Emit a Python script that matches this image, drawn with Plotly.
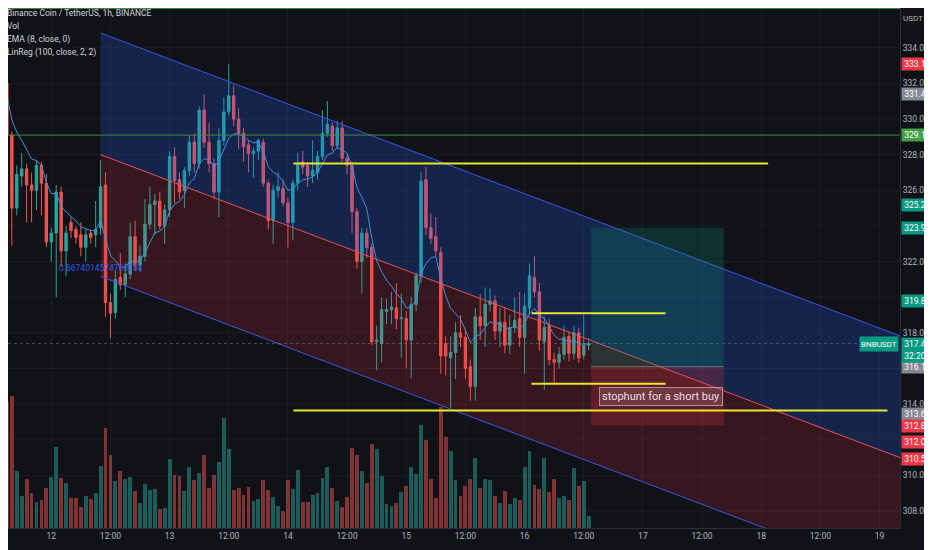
import pandas as pd
import plotly.graph_objects as go

# ---------------------------------------------------------------------------
# BNB/USDT 1h candles, first candle = 11th 14:00
# ---------------------------------------------------------------------------
t0 = pd.Timestamp("2023-04-11 14:00")

opens = [333.3, 332.0, 329.1, 325.0, 326.8, 327.2, 326.3, 326.0, 327.4, 326.4,
         323.1, 323.6, 325.9, 322.6, 324.2, 323.8, 323.5, 322.8, 323.6, 323.5,
         323.9, 326.3, 319.7, 319.15, 321.1, 320.7, 321.3, 323.4, 321.8, 322.3,
         324.1, 325.2, 325.4, 324.0, 324.9, 327.9, 326.6, 326.0, 327.1, 328.7,
         327.5, 330.5, 328.7, 327.5, 325.9, 328.8, 330.4, 331.3, 330.0, 329.2,
         328.55, 328.05, 328.2, 328.7, 326.4, 324.3, 326.0, 326.1, 325.3, 324.2,
         326.4, 327.6, 327.4, 326.8, 327.0, 327.9, 329.2, 329.6, 328.5, 329.5,
         327.8, 327.4, 324.8, 322.0, 323.6, 322.8, 317.5, 317.4, 319.2, 319.3,
         319.4, 318.8, 318.8, 317.6, 319.6, 321.2, 326.6, 323.9, 323.4, 322.5,
         317.4, 316.6, 316.9, 318.0, 317.75, 316.1, 315.0, 318.9, 318.4, 319.6,
         319.8, 318.1, 318.6, 317.3, 318.3, 318.8, 317.75, 319.4, 321.1, 320.3,
         317.5, 318.4, 316.5, 316.35, 316.8, 317.8, 316.85, 318.0, 316.75, 317.3]
highs = [333.6, 332.2, 329.3, 327.4, 328.1, 327.5, 327.0, 327.7, 327.6, 326.9,
         323.9, 326.3, 326.2, 324.0, 324.5, 324.0, 324.2, 323.8, 323.8, 325.4,
         327.7, 327.0, 320.2, 321.5, 322.5, 321.9, 324.2, 324.3, 322.9, 325.5,
         326.2, 325.8, 325.9, 325.2, 328.2, 328.4, 327.0, 327.3, 329.1, 329.2,
         330.7, 331.4, 329.8, 327.8, 329.5, 331.2, 333.1, 331.9, 330.6, 329.5,
         328.8, 328.4, 328.9, 328.9, 326.6, 326.3, 327.0, 326.6, 325.6, 326.6,
         328.1, 328.2, 327.6, 328.8, 328.2, 330.5, 331.0, 329.8, 329.9, 329.9,
         328.0, 327.6, 325.0, 323.9, 323.9, 323.0, 318.4, 320.0, 319.9, 320.3,
         320.8, 320.2, 319.2, 320.0, 321.4, 327.0, 327.3, 324.7, 324.5, 322.8,
         317.8, 317.8, 318.6, 319.0, 318.2, 316.5, 319.4, 320.2, 320.55, 320.5,
         320.1, 319.4, 319.4, 319.0, 320.0, 320.3, 320.2, 321.9, 322.3, 320.8,
         318.9, 318.8, 316.9, 317.2, 318.4, 318.1, 318.4, 318.3, 319.0, 317.7]
lows = [330.0, 326.4, 322.9, 324.6, 326.2, 324.2, 324.2, 324.9, 324.6, 322.8,
        322.0, 320.0, 321.7, 321.2, 323.3, 323.0, 322.3, 322.0, 323.0, 322.8,
        323.5, 318.9, 317.7, 318.8, 320.4, 320.0, 321.0, 321.5, 321.4, 322.0,
        323.8, 323.5, 323.8, 323.0, 324.5, 325.3, 325.5, 325.0, 326.8, 327.0,
        327.2, 328.4, 327.0, 325.5, 324.5, 328.5, 330.2, 329.6, 328.3, 327.6,
        327.0, 326.7, 327.7, 326.2, 323.8, 323.0, 325.6, 325.1, 322.8, 323.2,
        326.0, 326.9, 326.2, 326.4, 326.6, 327.7, 329.0, 328.2, 328.3, 327.6,
        326.9, 323.6, 321.6, 320.2, 322.2, 317.3, 315.9, 316.35, 318.5, 318.5,
        318.2, 316.6, 316.0, 315.45, 319.2, 320.8, 323.5, 323.0, 322.3, 315.7,
        315.6, 313.8, 315.4, 317.2, 315.4, 314.2, 314.2, 317.6, 317.2, 319.2,
        317.6, 317.2, 316.85, 316.8, 318.0, 317.2, 315.7, 319.0, 320.0, 317.0,
        314.8, 316.2, 315.2, 316.0, 316.5, 316.4, 316.5, 316.3, 316.5, 317.0]
closes = [332.0, 329.1, 325.0, 326.9, 327.2, 326.3, 326.0, 327.4, 326.4, 323.1,
          323.6, 325.9, 322.6, 323.6, 323.75, 323.35, 322.8, 323.5, 323.35, 323.8,
          326.2, 319.7, 319.1, 321.0, 320.7, 321.3, 323.4, 321.8, 322.3, 324.1,
          325.2, 325.4, 324.0, 324.9, 327.9, 326.55, 325.9, 327.1, 328.7, 327.5,
          330.5, 328.7, 327.5, 325.9, 328.8, 330.4, 331.3, 330.0, 329.2, 328.45,
          328.05, 328.2, 328.8, 326.4, 324.3, 326.0, 326.2, 325.3, 324.2, 326.4,
          327.45, 327.3, 326.8, 327.1, 327.9, 329.2, 329.7, 328.5, 329.5, 327.8,
          327.4, 324.8, 322.0, 323.6, 322.8, 317.5, 317.6, 319.3, 319.3, 319.45,
          318.8, 318.85, 317.6, 319.6, 321.2, 326.5, 323.9, 323.3, 322.6, 316.7,
          316.7, 316.9, 318.0, 317.75, 316.0, 315.0, 318.9, 318.4, 319.6, 319.8,
          318.1, 318.6, 317.3, 318.3, 318.7, 317.75, 319.5, 321.2, 320.3, 317.6,
          318.3, 316.5, 316.35, 316.8, 317.75, 316.85, 318.0, 316.6, 317.3, 317.4]
# volume in K BNB
volumes = [10.6, 12.6, 13.2, 5.7, 3.2, 4.9, 3.5, 2.6, 2.8, 4.0,
           5.1, 8.1, 5.0, 4.5, 3.0, 3.0, 2.1, 3.2, 2.9, 3.5,
           6.2, 10.0, 7.3, 4.7, 5.7, 4.9, 5.1, 3.7, 2.5, 4.4,
           3.8, 3.9, 1.9, 2.0, 6.9, 5.3, 5.2, 3.7, 6.1, 4.8,
           5.5, 7.3, 4.0, 5.3, 6.6, 11.0, 7.9, 3.8, 4.0, 3.3,
           4.1, 2.7, 2.9, 4.8, 3.8, 3.1, 2.2, 1.7, 4.8, 3.9,
           5.8, 2.6, 2.6, 3.3, 3.5, 5.0, 6.1, 4.0, 2.7, 2.1,
           3.1, 8.0, 7.3, 5.7, 4.5, 8.4, 7.9, 5.2, 2.4, 2.2,
           2.5, 3.6, 4.2, 6.1, 5.4, 10.3, 8.8, 4.9, 3.0, 12.1,
           9.1, 7.7, 4.8, 3.2, 4.2, 4.9, 7.0, 4.0, 4.9, 4.8,
           3.2, 2.5, 3.7, 2.4, 3.0, 2.8, 6.1, 7.7, 4.3, 3.9,
           7.0, 3.6, 4.9, 3.0, 3.2, 2.8, 6.0, 4.2, 4.7, 1.2]

# linear regression channel (100 bars)
linreg_bars = [20, 119]
linreg_mid = [328.0, 317.62]
linreg_dev = 6.83
pearson_r = "0.6674014574765254"

# drawings (bar offsets from first candle, prices)
yellow_from = [59.1, 107.4, 107.4, 59.1]
yellow_to = [155.4, 134.6, 134.6, 179.6]
yellow_price = [327.5, 319.1, 315.15, 313.65]
green_levels = [336.2, 329.1]
pos_from, pos_to = 119.5, 146.4
pos_entry, pos_target, pos_stop = 316.1, 323.9, 312.8
note_bar, note_price = 133.6, 314.45
last_price = 317.4

# price-scale labels
label_text = ["333.1", "331.4", "329.1", "325.2", "323.9", "319.8",
              "316.1", "313.6", "312.8", "312.0", "310.5"]
label_y = [333.1, 331.4, 329.1, 325.2, 323.9, 319.8,
           316.1, 313.45, 312.8, 311.9, 310.9]
label_col = ["#f23645", "#868993", "#43a047", "#089981", "#089981", "#089981",
             "#868993", "#868993", "#f23645", "#f23645", "#f23645"]

# price ticks that are not hidden behind a label
price_ticks = [308, 310, 314, 318, 322, 326, 328, 330, 332, 334]
price_grid = [308, 310, 312, 314, 316, 318, 320, 322, 324, 326, 328, 330, 332, 334]

tick_times = pd.date_range("2023-04-12", "2023-04-19", freq="12h")
tick_text = ["12", "12:00", "13", "12:00", "14", "12:00", "15", "12:00",
             "16", "12:00", "17", "12:00", "18", "12:00", "19"]

# ---------------------------------------------------------------------------
times = pd.date_range(t0, periods=len(opens), freq="h")


def at(h):
    return t0 + pd.Timedelta(hours=h)


UP, DOWN = "#26a69a", "#ef5350"
BG = "#101218"
GRID = "rgba(255,255,255,0.045)"
FONT = "Roboto, Liberation Sans, sans-serif"
x_left, x_right = 1.22, 182.15

ema = pd.Series(closes).ewm(span=8, adjust=False).mean()

# extend the channel to the right edge, like the indicator does
slope = (linreg_mid[1] - linreg_mid[0]) / (linreg_bars[1] - linreg_bars[0])
mid_edge = linreg_mid[1] + slope * (x_right - linreg_bars[1])
ch_x = [at(linreg_bars[0]), at(x_right)]
ch_mid = [linreg_mid[0], mid_edge]
ch_up = [v + linreg_dev for v in ch_mid]
ch_lo = [v - linreg_dev for v in ch_mid]

fig = go.Figure()

fig.add_trace(go.Scatter(x=ch_x, y=ch_lo, mode="lines",
                         line=dict(color="#3b55e6", width=1), hoverinfo="skip"))
fig.add_trace(go.Scatter(x=ch_x, y=ch_mid, mode="lines", fill="tonexty",
                         fillcolor="rgba(242,54,69,0.17)",
                         line=dict(color="#e8505b", width=1), hoverinfo="skip"))
fig.add_trace(go.Scatter(x=ch_x, y=ch_up, mode="lines", fill="tonexty",
                         fillcolor="rgba(41,98,255,0.22)",
                         line=dict(color="#3b55e6", width=1), hoverinfo="skip"))

vol_colors = ["rgba(38,166,154,0.5)" if c >= o else "rgba(239,83,80,0.5)"
              for o, c in zip(opens, closes)]
fig.add_trace(go.Bar(x=times, y=volumes, marker_color=vol_colors,
                     marker_line_width=0, width=3600000 * 0.78, yaxis="y2",
                     name="Vol"))

fig.add_trace(go.Candlestick(
    x=times, open=opens, high=highs, low=lows, close=closes,
    increasing=dict(line=dict(color=UP, width=1), fillcolor=UP),
    decreasing=dict(line=dict(color=DOWN, width=1), fillcolor=DOWN),
    whiskerwidth=0, name="BNBUSDT"))

fig.add_trace(go.Scatter(x=times, y=ema, mode="lines",
                         line=dict(color="#3f8fdb", width=1), name="EMA"))

shapes = []
# horizontal grid at every 2.0 (tick labels are only shown where visible)
for g in price_grid:
    shapes.append(dict(type="line", xref="paper", x0=0, x1=1, y0=g, y1=g,
                       line=dict(color=GRID, width=1), layer="below"))
for lvl in green_levels:
    shapes.append(dict(type="line", xref="paper", x0=0, x1=1, y0=lvl, y1=lvl,
                       line=dict(color="#3f8f3f", width=1)))
shapes.append(dict(type="line", xref="paper", x0=0, x1=1, y0=last_price,
                   y1=last_price, line=dict(color="rgba(140,143,153,0.45)",
                                            width=1, dash="dot")))
shapes.append(dict(type="rect", x0=at(pos_from), x1=at(pos_to), y0=pos_entry,
                   y1=pos_target, fillcolor="rgba(8,153,129,0.22)", line_width=0,
                   layer="above"))
shapes.append(dict(type="rect", x0=at(pos_from), x1=at(pos_to), y0=pos_stop,
                   y1=pos_entry, fillcolor="rgba(242,54,69,0.22)", line_width=0,
                   layer="above"))
shapes.append(dict(type="line", x0=at(pos_from), x1=at(pos_to), y0=pos_entry,
                   y1=pos_entry, line=dict(color="rgba(160,160,170,0.6)", width=1)))
for a, b, p in zip(yellow_from, yellow_to, yellow_price):
    shapes.append(dict(type="line", x0=at(a), x1=at(b), y0=p, y1=p,
                       line=dict(color="#e6e62e", width=2), layer="above"))

ann = []
legend_lines = ["Binance Coin / TetherUS, 1h, BINANCE", "Vol",
                "EMA (8, close, 0)", "LinReg (100, close, 2, 2)"]
for k, txt in enumerate(legend_lines):
    ann.append(dict(xref="paper", yref="paper", x=0, y=1, xanchor="left",
                    yanchor="middle", xshift=-3, yshift=-5 - 13 * k, text=txt,
                    showarrow=False, font=dict(color="#d1d4dc", size=8.5)))

for txt, yv, col in zip(label_text, label_y, label_col):
    ann.append(dict(xref="paper", yref="y", x=1, y=yv, xanchor="left",
                    xshift=1, text=txt, showarrow=False, bgcolor=col,
                    width=26, height=12, borderpad=0,
                    font=dict(color="white", size=8.5)))
ann.append(dict(xref="paper", yref="y", x=1, y=last_price, xanchor="left",
                xshift=1, text="317.4<br>32:20", showarrow=False,
                bgcolor="#089981", width=26, height=24, borderpad=0,
                yanchor="top", yshift=7, font=dict(color="white", size=8.5)))
ann.append(dict(xref="paper", yref="y", x=1, y=last_price, xanchor="right",
                xshift=-1, text="BNBUSDT", showarrow=False, bgcolor="#089981",
                height=12, borderpad=1, font=dict(color="white", size=8)))
ann.append(dict(xref="paper", yref="paper", x=1, y=1, xanchor="center",
                xshift=13, yshift=-4, text="USDT", showarrow=False,
                font=dict(color="#b2b5be", size=8)))
ann.append(dict(x=at(linreg_bars[0]), y=linreg_mid[0] - linreg_dev + 0.45,
                text=pearson_r, showarrow=False, xanchor="center",
                font=dict(color="#2f5bea", size=8.5)))
ann.append(dict(x=at(note_bar), y=note_price, text="stophunt for a short buy",
                showarrow=False, bgcolor="rgba(150,110,120,0.35)",
                bordercolor="rgba(190,170,180,0.8)", borderwidth=1, borderpad=2,
                font=dict(color="#e8dde0", size=11)))

# the page adds an 8 px body margin, so the figure is 8 px smaller each way
fig.update_layout(
    width=924, height=542,
    margin=dict(l=0, r=32, t=0, b=22),
    paper_bgcolor=BG, plot_bgcolor=BG,
    font=dict(family=FONT, color="#b2b5be", size=8.5),
    showlegend=False, bargap=0,
    shapes=shapes, annotations=ann,
    xaxis=dict(type="date", range=[at(x_left), at(x_right)],
               tickvals=tick_times, ticktext=tick_text, ticks="",
               showgrid=True, gridcolor=GRID,
               showline=True, linecolor="#2a2e39", zeroline=False,
               rangeslider=dict(visible=False), tickfont=dict(size=8.5)),
    yaxis=dict(side="right", range=[307.05, 336.23], tickvals=price_ticks,
               tickformat=".1f", showgrid=False, showline=True,
               linecolor="#2a2e39", zeroline=False, ticks="",
               tickfont=dict(size=8.5)),
    yaxis2=dict(overlaying="y", range=[0, 52.0], visible=False),
)

fig.write_html("out.html")
